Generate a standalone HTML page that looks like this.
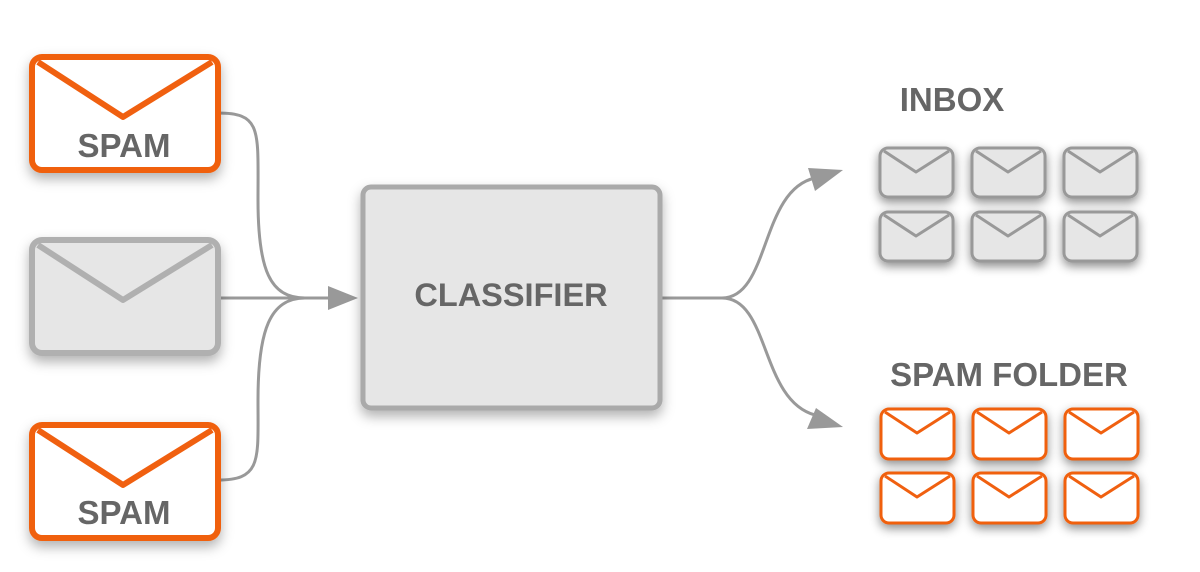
<!DOCTYPE html>
<html><head><style>html,body{margin:0;padding:0;background:#fff;width:1200px;height:572px;overflow:hidden}</style></head>
<body>
<svg width="1200" height="572" viewBox="0 0 1200 572" xmlns="http://www.w3.org/2000/svg" font-family="Liberation Sans, sans-serif">
<defs>
<filter id="sh" x="-30%" y="-30%" width="160%" height="170%"><feDropShadow dx="0" dy="6" stdDeviation="6" flood-color="#000" flood-opacity="0.3"/></filter>
<filter id="sh2" x="-30%" y="-30%" width="160%" height="170%"><feDropShadow dx="0" dy="4" stdDeviation="5" flood-color="#000" flood-opacity="0.45"/></filter>
</defs>
<g fill="none" stroke="#999" stroke-width="3">
<path d="M218,113 C262,113 258,130 258,200 C258,270 270,298 305,298"/>
<path d="M218,480 C262,480 258,460 258,400 C258,330 270,298 305,298"/>
<path d="M218,298 L335,298"/>
<path d="M660,298 L722,298 C770,298 760,190 815,178"/>
<path d="M722,298 C770,298 760,400 815,415"/>
</g>
<g fill="#999">
<polygon points="358,298 328,286 328,310"/>
<polygon points="843,170 808,168 815,191"/>
<polygon points="843,427 807,429 816,408"/>
</g>
<g filter="url(#sh)">
<rect x="32" y="57" width="186" height="113" rx="10" fill="#fff" stroke="#f06010" stroke-width="6"/>
<rect x="32" y="240" width="186" height="113" rx="10" fill="#e6e6e6" stroke="#b0b0b0" stroke-width="6"/>
<rect x="32" y="425" width="186" height="113" rx="10" fill="#fff" stroke="#f06010" stroke-width="6"/>
<rect x="363" y="187" width="297" height="221" rx="8" fill="#e6e6e6" stroke="#aaa" stroke-width="5"/>
</g>
<g fill="none" stroke-width="6" stroke-linejoin="round">
<path d="M38,62 L123,117 L212,62" stroke="#f06010"/>
<path d="M38,245 L123,300 L212,245" stroke="#b0b0b0"/>
<path d="M38,430 L123,485 L212,430" stroke="#f06010"/>
</g>
<g fill="#666" font-weight="bold" text-anchor="middle">
<text x="124" y="157" font-size="33">SPAM</text>
<text x="124" y="524" font-size="33">SPAM</text>
<text x="511" y="306" font-size="32.5">CLASSIFIER</text>
<text x="952" y="111" font-size="33">INBOX</text>
<text x="1009" y="386" font-size="33">SPAM FOLDER</text>
</g>
<g filter="url(#sh2)" fill="#e6e6e6" stroke="#999" stroke-width="3">
<rect x="880" y="148" width="73" height="49" rx="8"/>
<rect x="972" y="148" width="73" height="49" rx="8"/>
<rect x="1064" y="148" width="73" height="49" rx="8"/>
<rect x="880" y="212" width="73" height="49" rx="8"/>
<rect x="972" y="212" width="73" height="49" rx="8"/>
<rect x="1064" y="212" width="73" height="49" rx="8"/>
</g>
<g fill="none" stroke="#999" stroke-width="3" stroke-linejoin="round">
<path d="M884,151 L916,172 L949,151"/><path d="M976,151 L1008,172 L1041,151"/><path d="M1068,151 L1100,172 L1133,151"/>
<path d="M884,215 L916,236 L949,215"/><path d="M976,215 L1008,236 L1041,215"/><path d="M1068,215 L1100,236 L1133,215"/>
</g>
<g filter="url(#sh2)" fill="#fff" stroke="#f06010" stroke-width="3">
<rect x="881" y="409" width="73" height="50" rx="8"/>
<rect x="973" y="409" width="73" height="50" rx="8"/>
<rect x="1065" y="409" width="73" height="50" rx="8"/>
<rect x="881" y="473" width="73" height="50" rx="8"/>
<rect x="973" y="473" width="73" height="50" rx="8"/>
<rect x="1065" y="473" width="73" height="50" rx="8"/>
</g>
<g fill="none" stroke="#f06010" stroke-width="3" stroke-linejoin="round">
<path d="M885,412 L917,433 L950,412"/><path d="M977,412 L1009,433 L1042,412"/><path d="M1069,412 L1101,433 L1134,412"/>
<path d="M885,476 L917,497 L950,476"/><path d="M977,476 L1009,497 L1042,476"/><path d="M1069,476 L1101,497 L1134,476"/>
</g>
</svg>
</body></html>
